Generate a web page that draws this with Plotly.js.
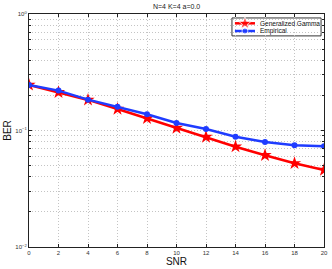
<!DOCTYPE html>
<html>
<head>
<meta charset="utf-8">
<script src="https://cdn.plot.ly/plotly-3.0.1.min.js"></script>
<style>html,body{margin:0;padding:0;background:#fff;}#chart{width:332px;height:269px;}</style>
</head>
<body>
<div id="chart"></div>
<script>
const snr = [0, 2, 4, 6, 8, 10, 12, 14, 16, 18, 20];
const berGamma = [0.246, 0.213, 0.183, 0.153, 0.127, 0.105, 0.088, 0.0726, 0.0613, 0.0523, 0.0458];
const berEmpirical = [0.246, 0.220, 0.184, 0.160, 0.138, 0.116, 0.103, 0.0885, 0.0797, 0.0746, 0.0731];
const seriesNames = ["Generalized Gamma", "Empirical"];
const seriesColors = ["#ff0000", "#1f3cff"];
const titleText = "N=4 K=4 a=0.0";
const xLabel = "SNR";
const yLabel = "BER";
const yMajorVals = [0.01, 0.1, 1];
const yMajorText = ["10<sup>−2</sup>", "10<sup>−1</sup>", "10<sup>0</sup>"];

const yMinorVals = [];
[0.01, 0.1].forEach(d => { for (let m = 2; m <= 9; m++) yMinorVals.push(d * m); });

const font = "Liberation Sans, Arial, sans-serif";
const gridDash = "1px,2px";
const gridColor = "#c4c4c4";

// compact MATLAB-style legend (layout only, in plot-area fractions)
const leg = {x0: 0.688, x1: 0.990, y0: 0.906, y1: 0.983, keyX0: 0.698, keyX1: 0.766, textX: 0.776, rows: [0.960, 0.927]};

const data = [
  {x: snr, y: berGamma, name: seriesNames[0], mode: "lines+markers", showlegend: false,
   line: {color: seriesColors[0], width: 2.5},
   marker: {symbol: "star", size: 10, color: seriesColors[0]}},
  {x: snr, y: berEmpirical, name: seriesNames[1], mode: "lines+markers", showlegend: false,
   line: {color: seriesColors[1], width: 2.5},
   marker: {symbol: "circle", size: 6, color: seriesColors[1]}}
];
const symbols = ["star", "circle"];
const symSizes = [10, 6];
seriesNames.forEach((n, i) => {
  const mid = (leg.keyX0 + leg.keyX1) / 2;
  data.push({x: [leg.keyX0, mid, leg.keyX1], y: [leg.rows[i], leg.rows[i], leg.rows[i]],
    xaxis: "x2", yaxis: "y2", mode: "lines+markers", showlegend: false, hoverinfo: "skip",
    line: {color: seriesColors[i], width: 2.5},
    marker: {symbol: symbols[i], size: [0, symSizes[i], 0], color: seriesColors[i]}});
});

const layout = {
  width: 332, height: 269,
  margin: {l: 29, r: 8, t: 14, b: 22},
  paper_bgcolor: "#fff", plot_bgcolor: "#fff",
  font: {family: font, color: "#222", size: 6},
  title: {text: titleText, font: {size: 7, family: font, color: "#222"}, x: 0.532, xanchor: "center", y: 0.985, yanchor: "top"},
  showlegend: false,
  shapes: [{type: "rect", xref: "paper", yref: "paper", x0: leg.x0, x1: leg.x1, y0: leg.y0, y1: leg.y1,
            line: {color: "#333", width: 1}, fillcolor: "#fff", layer: "between"}],
  annotations: seriesNames.map((n, i) => ({text: n, xref: "paper", yref: "paper", x: leg.textX, y: leg.rows[i],
            xanchor: "left", yanchor: "middle", showarrow: false, font: {size: 6.5, family: font, color: "#111"}})),
  xaxis: {range: [0, 20], tickvals: snr, ticktext: snr.map(String),
          showgrid: true, gridcolor: gridColor, griddash: gridDash, gridwidth: 1,
          showline: true, linecolor: "#222", linewidth: 1, mirror: "ticks",
          ticks: "inside", ticklen: 3, tickcolor: "#222", zeroline: false,
          tickfont: {size: 6, family: font, color: "#333"},
          title: {text: xLabel, font: {size: 10, family: font, color: "#111"}, standoff: 2}},
  yaxis: {type: "log", range: [-2, 0], tickvals: yMajorVals, ticktext: yMajorText,
          showgrid: true, gridcolor: gridColor, griddash: gridDash, gridwidth: 1,
          showline: true, linecolor: "#222", linewidth: 1, mirror: "ticks",
          ticks: "inside", ticklen: 3, tickcolor: "#222", zeroline: false,
          minor: {tickmode: "array", tickvals: yMinorVals, ticks: "inside", ticklen: 2, tickcolor: "#222",
                  showgrid: true, gridcolor: gridColor, griddash: gridDash, gridwidth: 1},
          tickfont: {size: 6, family: font, color: "#333"},
          title: {text: yLabel, font: {size: 10, family: font, color: "#111"}, standoff: 1}},
  xaxis2: {overlaying: "x", range: [0, 1], visible: false, fixedrange: true},
  yaxis2: {overlaying: "y", range: [0, 1], visible: false, fixedrange: true}
};
Plotly.newPlot("chart", data, layout, {displayModeBar: false, staticPlot: true});
</script>
</body>
</html>
